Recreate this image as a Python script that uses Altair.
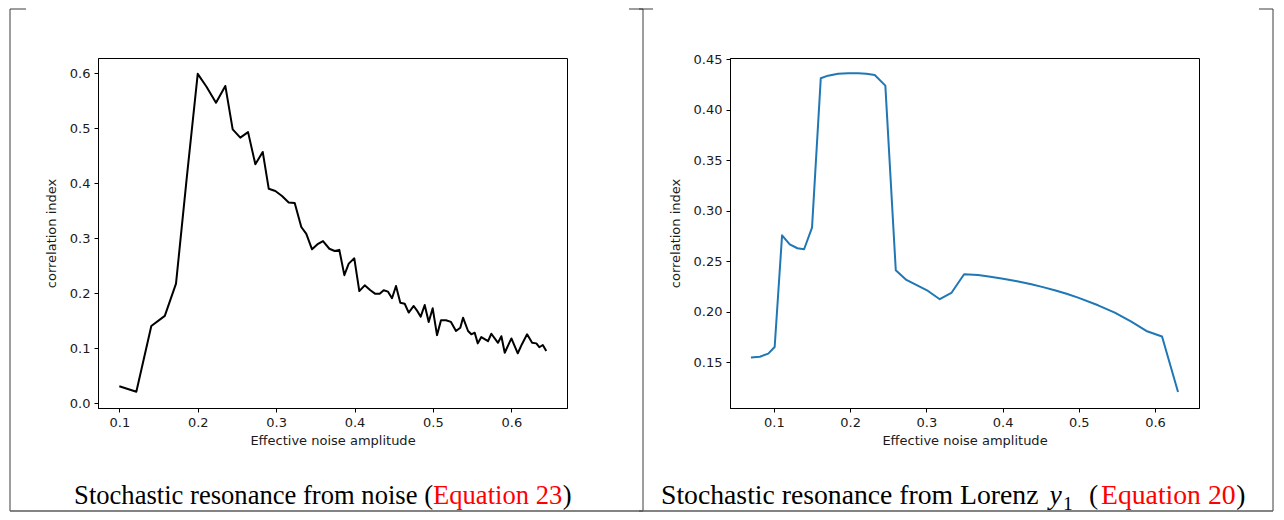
import altair as alt
import pandas as pd

# ---------------- data ----------------
noise_amp = [0.1, 0.1217, 0.1408, 0.158, 0.1723, 0.186, 0.2, 0.2112, 0.2233, 0.2352,
             0.2446, 0.2543, 0.2642, 0.2735, 0.2829, 0.2906, 0.299, 0.3075, 0.316, 0.3237,
             0.3321, 0.3385, 0.3458, 0.3535, 0.3598, 0.3679, 0.3747, 0.3806, 0.387, 0.3926,
             0.3997, 0.4061, 0.413, 0.4202, 0.4265, 0.4321, 0.4372, 0.4427, 0.4478, 0.4529,
             0.4584, 0.464, 0.4691, 0.4755, 0.4806, 0.4844, 0.4895, 0.4946, 0.4997, 0.5052,
             0.5103, 0.5166, 0.523, 0.5294, 0.5349, 0.5384, 0.5448, 0.549, 0.5533, 0.5572,
             0.5617, 0.5703, 0.5745, 0.583, 0.5873, 0.5916, 0.6001, 0.6082, 0.6137, 0.6201,
             0.6265, 0.6319, 0.6357, 0.6401, 0.6446]
noise_corr = [0.031, 0.021, 0.1405, 0.159, 0.2175, 0.41, 0.599, 0.5756, 0.5465, 0.577,
              0.498, 0.483, 0.493, 0.4345, 0.457, 0.390, 0.386, 0.377, 0.365, 0.364,
              0.3205, 0.308, 0.280, 0.290, 0.295, 0.281, 0.277, 0.279, 0.233, 0.254,
              0.2636, 0.204, 0.2145, 0.2055, 0.199, 0.199, 0.2055, 0.203, 0.191, 0.2133,
              0.183, 0.181, 0.165, 0.177, 0.1666, 0.1575, 0.1787, 0.148, 0.1727, 0.124,
              0.151, 0.151, 0.148, 0.1315, 0.1375, 0.1557, 0.1315, 0.1255, 0.1284, 0.109,
              0.1205, 0.113, 0.1265, 0.110, 0.122, 0.092, 0.118, 0.091, 0.108, 0.1255,
              0.110, 0.109, 0.102, 0.106, 0.095]

lorenz_amp = [0.0699, 0.0815, 0.0926, 0.101, 0.1107, 0.1208, 0.1308, 0.1396, 0.15, 0.1615,
              0.171, 0.1842, 0.1973, 0.2104, 0.2213, 0.2323, 0.2462, 0.2599, 0.2738, 0.3022,
              0.3176, 0.3328, 0.3495, 0.3678, 0.384, 0.4006, 0.419, 0.4378, 0.453, 0.4684,
              0.484, 0.499, 0.5253, 0.5472, 0.5689, 0.5886, 0.6092, 0.6302]
lorenz_corr = [0.1546, 0.1555, 0.1585, 0.1651, 0.2757, 0.2668, 0.2629, 0.2619, 0.2833, 0.4312,
               0.4338, 0.4357, 0.4361, 0.4361, 0.4357, 0.4345, 0.4239, 0.2411, 0.2315, 0.2206,
               0.2124, 0.2186, 0.2371, 0.2364, 0.2347, 0.2328, 0.2302, 0.2272, 0.2244, 0.2213,
               0.2178, 0.214, 0.2064, 0.1991, 0.1902, 0.181, 0.1755, 0.1206]

x_tick_values = [0.1, 0.2, 0.3, 0.4, 0.5, 0.6]
noise_y_ticks = [0.0, 0.1, 0.2, 0.3, 0.4, 0.5, 0.6]
lorenz_y_ticks = [0.15, 0.20, 0.25, 0.30, 0.35, 0.40, 0.45]
x_title = "Effective noise amplitude"
y_title = "correlation index"
left_caption = ["Stochastic resonance from noise (", "Equation 23", ")"]
right_caption = ["Stochastic resonance from Lorenz", "y", "1", "(", "Equation 20", ")"]

# ---------------- helpers ----------------
W, H = 469, 350
one = pd.DataFrame({"k": [0]})
FRAME = "#3c3c3c"
SERIF = "Liberation Serif"


def vrule(x, y1, y2, color=FRAME, width=1.0):
    return alt.Chart(one).mark_rule(color=color, strokeWidth=width).encode(
        x=alt.value(x), y=alt.value(y1), y2=alt.value(y2))


def hrule(x1, x2, y, color=FRAME, width=1.0):
    return alt.Chart(one).mark_rule(color=color, strokeWidth=width).encode(
        x=alt.value(x1), x2=alt.value(x2), y=alt.value(y))


def txt(s, x, y, align="left", color="black", size=26.6, style="normal"):
    return alt.Chart(one).mark_text(
        text=s, align=align, baseline="alphabetic", font=SERIF, fontSize=size,
        fontStyle=style, color=color).encode(x=alt.value(x), y=alt.value(y))


def plot(xs, ys, color, xdom, ydom, yticks, yfmt):
    df = pd.DataFrame({"amp": xs, "corr": ys})
    return alt.Chart(df).mark_line(color=color, strokeWidth=2, strokeJoin="round", clip=True).encode(
        x=alt.X("amp:Q", scale=alt.Scale(domain=xdom, nice=False, zero=False),
                axis=alt.Axis(values=x_tick_values, format=".1f", title=x_title)),
        y=alt.Y("corr:Q", scale=alt.Scale(domain=ydom, nice=False, zero=False),
                axis=alt.Axis(values=yticks, format=yfmt, title=y_title)),
    )


TOP, BOT, BASE = -49, 453, 446
LS, RS = 26.6, 27.7

left = alt.layer(
    plot(noise_amp, noise_corr, "black", [0.0728, 0.671], [-0.0085, 0.6278], noise_y_ticks, ".1f"),
    vrule(-88, TOP, BOT),
    vrule(545, TOP, BOT),
    hrule(-88, 545, BOT, color="#5a5a5a", width=1.6),
    hrule(-88, -72, TOP),
    hrule(531, 545, TOP),
    txt(left_caption[0], 335, BASE, align="right", size=LS),
    txt(left_caption[1], 335, BASE, color="red", size=LS),
    txt(left_caption[2], 335 + 4.861 * LS + 0.5, BASE, size=LS),
).properties(width=W, height=H)

red_r = 371
right = alt.layer(
    plot(lorenz_amp, lorenz_corr, "#1f77b4", [0.0424, 0.6577], [0.1047, 0.4513], lorenz_y_ticks, ".2f"),
    vrule(543, TOP, BOT),
    hrule(-91, 543, BOT, color="#5a5a5a", width=1.6),
    hrule(-91, -77, TOP),
    hrule(529, 543, TOP),
    txt(right_caption[0], -69, BASE, size=RS),
    txt(right_caption[1], 319.5, BASE, style="italic", size=RS),
    txt(right_caption[2], 333, BASE + 6, size=19.5),
    txt(right_caption[3], 359, BASE, size=RS),
    txt(right_caption[4], red_r, BASE, color="red", size=RS),
    txt(right_caption[5], red_r + 4.861 * RS + 0.5, BASE, size=RS),
).properties(width=W, height=H)

chart = alt.hconcat(left, right, spacing=-8).properties(padding=0).configure_view(
    stroke="black", strokeWidth=1
).configure_axis(
    labelFont="DejaVu Sans", labelFontSize=13, labelColor="#1a1a1a",
    titleFont="DejaVu Sans", titleFontSize=13, titleFontWeight="normal", titleColor="#1a1a1a",
    tickColor="black", domainColor="black", tickSize=4, tickWidth=1, domainWidth=1,
    labelPadding=4, titlePadding=5, grid=False,
).configure_axisY(titlePadding=11)

chart.save("out.html", embed_options={"renderer": "svg", "actions": False})
